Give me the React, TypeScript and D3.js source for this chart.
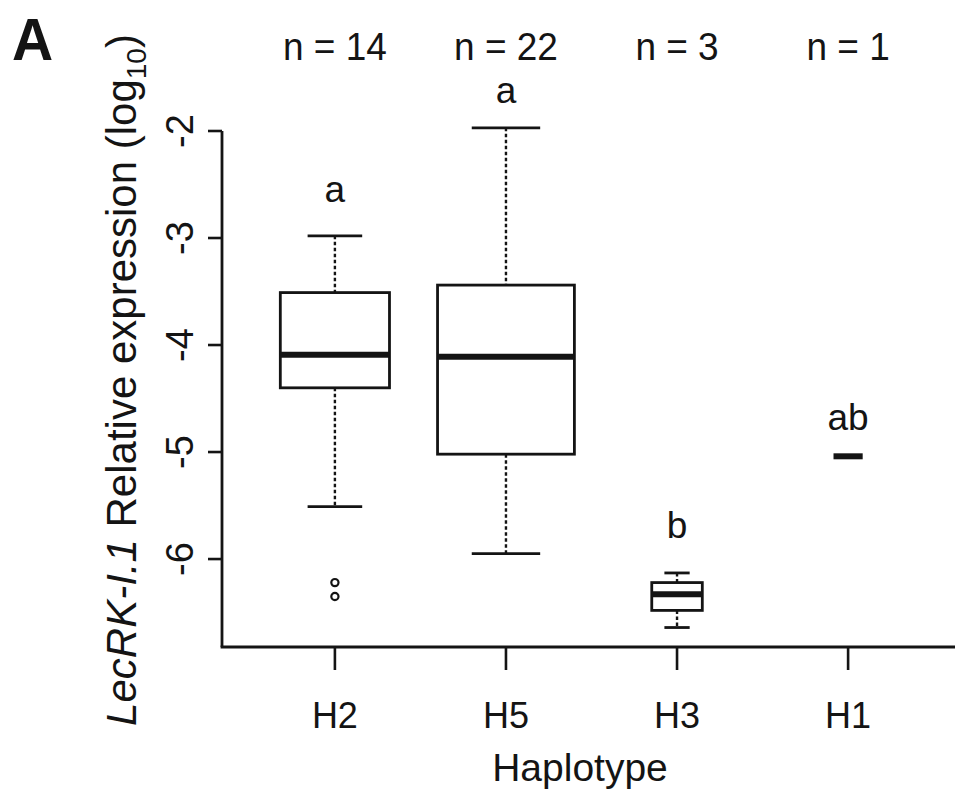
import React from 'react';
import * as d3 from 'd3';

// Haplotype groups and their summary stats (log10 relative expression)
const groups = ['H2', 'H5', 'H3', 'H1'];
const nCounts = [14, 22, 3, 1];
const whiskerHigh = [-2.98, -1.97, -6.13, -5.04];
const q3 = [-3.51, -3.44, -6.22, -5.04];
const medians = [-4.09, -4.11, -6.33, -5.04];
const q1 = [-4.40, -5.02, -6.48, -5.04];
const whiskerLow = [-5.51, -5.95, -6.64, -5.04];
const outliers = [[-6.22, -6.35], [], [], []];
const letters = ['a', 'a', 'b', 'ab'];
const letterY = [-2.66, -1.74, -5.80, -4.79];
const yTicks = [-6, -5, -4, -3, -2];

const W = 955;
const H = 803;
const FONT = '"Liberation Sans", Arial, Helvetica, sans-serif';
const INK = '#141414';

const App = () => {
  const x = d3.scaleLinear().domain([0.34, 4.66]).range([222, 961]);
  const y = d3.scaleLinear().domain([-6.822, -2]).range([647, 131]);
  const unit = x(1) - x(0);
  const maxSqrt = Math.sqrt(d3.max(nCounts) as number);
  // varwidth boxes: width proportional to sqrt(n)
  const boxW = nCounts.map(n => 0.8 * unit * Math.sqrt(n) / maxSqrt);
  const x0 = x.range()[0];
  const yBottom = y.range()[0];

  return (
    <svg width={W} height={H} style={{ position: 'absolute', left: 0, top: 0, background: '#fff' }}
      fontFamily={FONT}>
      {/* panel letter */}
      <text transform="translate(12,60) scale(1,1.05)" fontSize={57} fontWeight="bold" fill={INK}>A</text>

      {/* n labels */}
      {groups.map((g, i) => (
        <text key={'n' + g} transform={`translate(${x(i + 1)},60) scale(1,1.06)`} fontSize={37}
          textAnchor="middle" fill={INK}>
          {`n = ${nCounts[i]}`}
        </text>
      ))}

      {/* axes */}
      <line x1={x0} x2={x0} y1={y(-2)} y2={yBottom} stroke={INK} strokeWidth={2.8} />
      <line x1={x0 - 1.4} x2={x.range()[1]} y1={yBottom} y2={yBottom} stroke={INK} strokeWidth={2.8} />
      {yTicks.map(t => (
        <g key={'yt' + t}>
          <line x1={x0 - 14} x2={x0} y1={y(t)} y2={y(t)} stroke={INK} strokeWidth={2.6} />
          <text transform={`translate(193,${y(t)}) rotate(-90)`} fontSize={38} textAnchor="middle" fill={INK}>
            {t}
          </text>
        </g>
      ))}
      {groups.map((g, i) => (
        <g key={'xt' + g}>
          <line x1={x(i + 1)} x2={x(i + 1)} y1={yBottom} y2={yBottom + 23} stroke={INK} strokeWidth={2.6} />
          <text x={x(i + 1)} y={728} fontSize={36} textAnchor="middle" fill={INK}>{g}</text>
        </g>
      ))}

      {/* axis titles */}
      <text x={580} y={781} fontSize={39} textAnchor="middle" fill={INK}>Haplotype</text>
      <text transform="translate(136,380) rotate(-90)" fontSize={42} textAnchor="middle" fill={INK}>
        <tspan fontStyle="italic">LecRK-I.1</tspan>
        <tspan> Relative expression (log</tspan>
        <tspan fontSize={28} dy={10}>10</tspan>
        <tspan dy={-10}>)</tspan>
      </text>

      {/* boxes */}
      {groups.map((g, i) => {
        const cx = x(i + 1);
        const bw = boxW[i];
        const cap = bw / 2;
        return (
          <g key={'box' + g} stroke={INK} fill="none">
            <line x1={cx} x2={cx} y1={y(whiskerHigh[i])} y2={y(q3[i])} strokeWidth={2.4} strokeDasharray="3.5,2.5" />
            <line x1={cx} x2={cx} y1={y(q1[i])} y2={y(whiskerLow[i])} strokeWidth={2.4} strokeDasharray="3.5,2.5" />
            <line x1={cx - cap / 2} x2={cx + cap / 2} y1={y(whiskerHigh[i])} y2={y(whiskerHigh[i])} strokeWidth={2.8} />
            <line x1={cx - cap / 2} x2={cx + cap / 2} y1={y(whiskerLow[i])} y2={y(whiskerLow[i])} strokeWidth={2.8} />
            <rect x={cx - bw / 2} y={y(q3[i])} width={bw} height={y(q1[i]) - y(q3[i])} strokeWidth={2.8} fill="#fff" />
            <line x1={cx - bw / 2} x2={cx + bw / 2} y1={y(medians[i])} y2={y(medians[i])} strokeWidth={6} />
            {outliers[i].map((o, k) => (
              <circle key={k} cx={cx} cy={y(o)} r={3.6} strokeWidth={2.2} />
            ))}
          </g>
        );
      })}

      {/* significance letters */}
      {groups.map((g, i) => (
        <text key={'l' + g} x={x(i + 1)} y={y(letterY[i])} fontSize={37} textAnchor="middle" fill={INK}>
          {letters[i]}
        </text>
      ))}
    </svg>
  );
};

export default App;
